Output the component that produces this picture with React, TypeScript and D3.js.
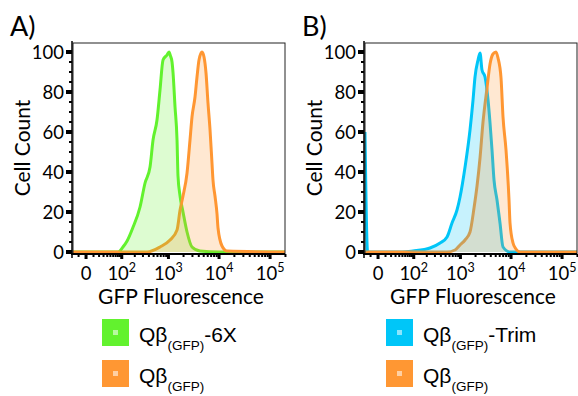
import React from 'react';
import * as d3 from 'd3';

// histogram values (fluorescence, cell count %)
const gfp6xX = [-20, 0, 50, 81, 107, 134, 180, 260, 332, 422, 487, 587, 676, 778, 936, 1027, 1100, 1180, 1237, 1355, 1485, 1553, 1705, 1952, 2345, 2940, 4230, 10000, 196000];
const gfp6xY = [0, 0, 0, 0, 2.5, 5.5, 12, 22.5, 34.5, 42.5, 56, 66, 81, 96, 98.5, 100, 98, 95, 89.5, 72.5, 56, 38, 28, 20, 10, 2.5, 0.5, 0, 0];

const gfpAX = [-20, 0, 200, 366, 676, 1076, 1485, 1705, 1952, 2345, 2685, 2940, 3370, 3690, 4040, 4630, 5070, 5550, 6070, 6660, 7290, 7610, 8330, 9130, 9550, 11440, 14330, 196000];
const gfpAY = [0, 0, 0, 0, 2.5, 6, 11, 21, 28, 39.5, 56, 67.5, 77.5, 87.5, 96, 100, 97.5, 89.5, 74.5, 61, 44, 36, 28, 19, 12, 3, 0.5, 0];

const trimX = [-20, -15, 0, 50, 96, 235, 384, 535, 676, 853, 982, 1237, 1553, 1783, 1952, 2240, 2452, 2685, 3080, 3530, 3865, 4230, 4630, 5305, 6070, 6960, 9550, 196000];
const trimY = [60, 0, 0, 0, 0.5, 2, 4.5, 7.5, 14.5, 21, 27.5, 42.5, 61, 76, 87.5, 96, 99.5, 91, 87.5, 76, 64.5, 51, 36, 26, 14.5, 2.5, 0, 0];

const gfpBX = [-20, 0, 300, 535, 778, 982, 1237, 1553, 1865, 2140, 2452, 2810, 3370, 3865, 4420, 5070, 5550, 6360, 6960, 7970, 8845, 9130, 9550, 10940, 12480, 15000, 196000];
const gfpBY = [0, 0, 0, 0, 1, 3.5, 6, 10, 22, 33, 47, 65, 82, 94, 99, 100, 97, 87, 67.5, 51, 33, 26, 14.5, 4.5, 1.5, 0, 0];

const yTicks = [0, 20, 40, 60, 80, 100];
const xTickVals = [0, 100, 1000, 10000, 100000];
const xTickBase = ['0', '10', '10', '10', '10'];
const xTickSup = ['', '2', '3', '4', '5'];

const GREEN = '#62f22e';
const ORANGE = '#ff9733';
const BLUE = '#00c6f8';

const left = 73, right = 285, top = 43, bottom = 254;
const axisFont = 'Lato, "Open Sans", sans-serif';
const legendFont = '"Liberation Sans", Arial, sans-serif';

type Series = { xs: number[]; ys: number[]; color: string };

const x = d3.scaleSymlog().constant(25).domain([-20, 196000]).range([left, right]);
const y = d3.scaleLinear().domain([-1, 104.5]).range([bottom, top]);

const line = d3.line<[number, number]>()
    .x(d => x(d[0]))
    .y(d => y(d[1]))
    .curve(d3.curveMonotoneX);

const area = d3.area<[number, number]>()
    .x(d => x(d[0]))
    .y0(y(0))
    .y1(d => y(d[1]))
    .curve(d3.curveMonotoneX);

const minorX: number[] = [10, -10];
[10, 100, 1000, 10000].forEach(dec => {
    for (let m = 2; m <= 9; m++) minorX.push(m * dec);
});
minorX.push(200000);

const Panel: React.FC<{ dx: number; id: string; title: string; series: Series[]; legend: { color: string; suffix: string }[] }> = ({ dx, id, title, series, legend }) => {
    const pts = (s: Series) => s.xs.map((v, i) => [v, s.ys[i]] as [number, number]);
    return (
        <g transform={`translate(${dx},0)`}>
            <defs>
                <clipPath id={id}>
                    <rect x={left} y={top} width={right - left} height={bottom - top} />
                </clipPath>
            </defs>
            <text x={10} y={36} fontFamily={axisFont} fontSize={27}>{title}</text>

            <g clipPath={`url(#${id})`}>
                {series.map((s, i) => (
                    <path key={'l' + i} d={line(pts(s)) || ''} fill="none" stroke={s.color} strokeWidth={3} strokeLinejoin="round" />
                ))}
                {series.map((s, i) => (
                    <path key={'a' + i} d={area(pts(s)) || ''} fill={s.color} fillOpacity={0.22} stroke="none" />
                ))}
            </g>

            {/* frame */}
            <rect x={left} y={top} width={right - left} height={bottom - top} fill="none" stroke="#222" strokeWidth={1} />

            {/* y axis */}
            <line x1={left - 1} x2={left - 1} y1={top - 2} y2={bottom + 4} stroke="#000" strokeWidth={1.5} />
            {d3.range(0, 105, 5).map(t => (
                <rect key={'ym' + t} x={left - 4} y={y(t) - 1} width={3} height={2} fill="#000" />
            ))}
            {yTicks.map(t => (
                <g key={'y' + t}>
                    <rect x={left - 7} y={y(t) - 2} width={6} height={4} fill="#000" />
                    <text x={64} y={y(t) + 6.5} textAnchor="end" fontFamily={axisFont} fontSize={18.5}>{t}</text>
                </g>
            ))}
            <text transform={`translate(30,148) rotate(-90)`} textAnchor="middle" fontFamily={axisFont} fontSize={21}>Cell Count</text>

            {/* x axis */}
            <line x1={left - 2} x2={right} y1={bottom} y2={bottom} stroke="#000" strokeWidth={2} />
            {minorX.map(t => (
                <rect key={'xm' + t} x={x(t) - 1} y={bottom} width={2} height={3} fill="#000" />
            ))}
            {xTickVals.map((t, i) => (
                <g key={'x' + t}>
                    <rect x={x(t) - 1.5} y={bottom} width={3} height={5} fill="#000" />
                    <text x={x(t)} y={279.5} textAnchor="middle" fontFamily={axisFont} fontSize={18.5}>
                        {xTickBase[i]}
                        {xTickSup[i] && <tspan fontSize={12.5} dy={-8}>{xTickSup[i]}</tspan>}
                    </text>
                </g>
            ))}
            <text x={(left + right) / 2 + 2} y={304} textAnchor="middle" fontFamily={axisFont} fontSize={21}>GFP Fluorescence</text>

            {/* legend */}
            {legend.map((l, i) => (
                <g key={'lg' + i} transform={`translate(${dx === 0 ? 102 : 94},${319 + i * 41})`}>
                    <rect width={27} height={27} fill={l.color} />
                    <rect x={11} y={11} width={5} height={5} fill="#fff" fillOpacity={0.55} />
                    <text x={37} y={23} fontFamily={legendFont} fontSize={21}>
                        Qβ
                        <tspan fontSize={13.5} dy={8}>(GFP)</tspan>
                        {l.suffix && <tspan dy={-8}>{l.suffix}</tspan>}
                    </text>
                </g>
            ))}
        </g>
    );
};

export default function App() {
    return (
        <svg width={578} height={396} style={{ position: 'absolute', left: 0, top: 0, background: '#fff' }}>
            <Panel
                dx={0}
                id="clipA"
                title="A)"
                series={[
                    { xs: gfp6xX, ys: gfp6xY, color: GREEN },
                    { xs: gfpAX, ys: gfpAY, color: ORANGE },
                ]}
                legend={[
                    { color: GREEN, suffix: '-6X' },
                    { color: ORANGE, suffix: '' },
                ]}
            />
            <Panel
                dx={292}
                id="clipB"
                title="B)"
                series={[
                    { xs: trimX, ys: trimY, color: BLUE },
                    { xs: gfpBX, ys: gfpBY, color: ORANGE },
                ]}
                legend={[
                    { color: BLUE, suffix: '-Trim' },
                    { color: ORANGE, suffix: '' },
                ]}
            />
        </svg>
    );
}
